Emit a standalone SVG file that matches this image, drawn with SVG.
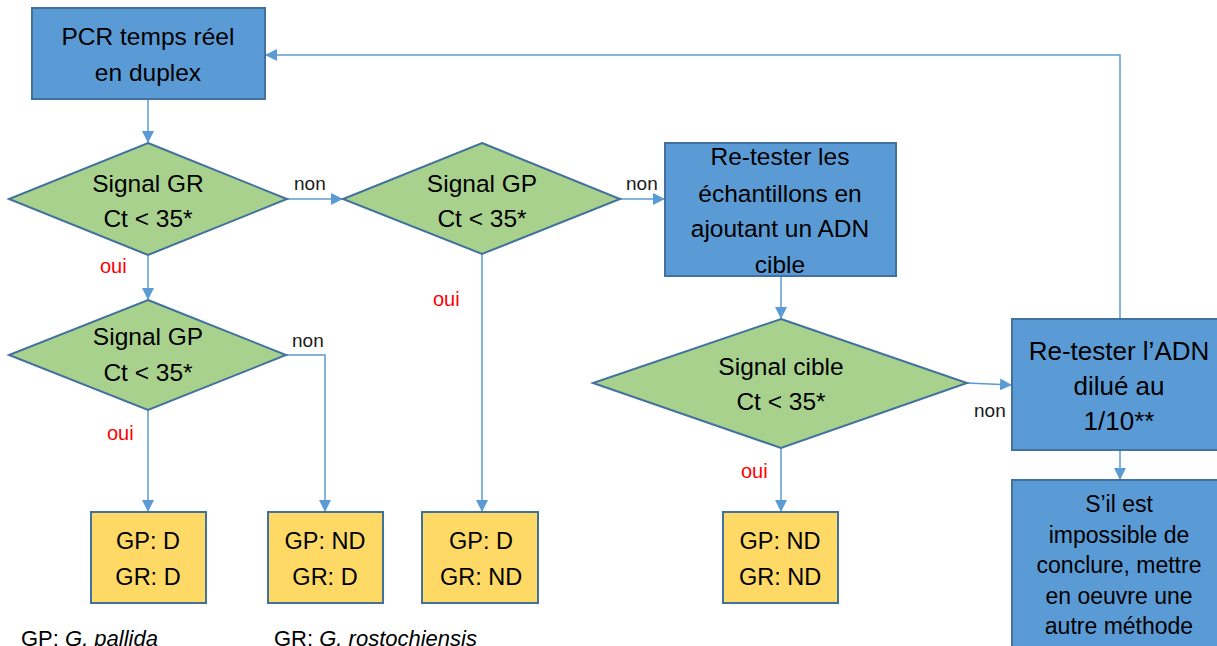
<svg xmlns="http://www.w3.org/2000/svg" width="1217" height="646" viewBox="0 0 1217 646">
<defs>
<marker id="arr" markerUnits="userSpaceOnUse" markerWidth="12" markerHeight="12" viewBox="0 0 12 12" refX="12" refY="6" orient="auto">
<path d="M0,0 L12,6 L0,12 Z" fill="#5B9BD5"/>
</marker>
<style>
.box{fill:#5B9BD5;stroke:#41719C;stroke-width:2}
.dia{fill:#A9D18E;stroke:#41719C;stroke-width:2}
.res{fill:#FFD966;stroke:#41719C;stroke-width:2}
.t{font-family:"Liberation Sans",Arial,sans-serif;font-size:24.5px;fill:#000;text-anchor:middle}
.b{font-family:"Liberation Sans",Arial,sans-serif;font-size:26px;fill:#000;text-anchor:middle}
.r{font-family:"Liberation Sans",Arial,sans-serif;font-size:23.5px;fill:#000;text-anchor:middle}
.s{font-family:"Liberation Sans",Arial,sans-serif;font-size:23px;fill:#000;text-anchor:middle}
.non{font-family:"Liberation Sans",Arial,sans-serif;font-size:19px;fill:#1a1a1a}
.oui{font-family:"Liberation Sans",Arial,sans-serif;font-size:20px;fill:#FF0000}
.ft{font-family:"Liberation Sans",Arial,sans-serif;font-size:22px;fill:#000}
.c{fill:none;stroke:#5B9BD5;stroke-width:1.5}
</style>
</defs>
<g id="connectors">
<path class="c" d="M148,99 V143" marker-end="url(#arr)"/>
<path class="c" d="M287,199 H343" marker-end="url(#arr)"/>
<path class="c" d="M620,199 H665" marker-end="url(#arr)"/>
<path class="c" d="M781,276 V319" marker-end="url(#arr)"/>
<path class="c" d="M967,383 L1012,385" marker-end="url(#arr)"/>
<path class="c" d="M1120,319 V55 H265" marker-end="url(#arr)"/>
<path class="c" d="M1120,450 V480" marker-end="url(#arr)"/>
<path class="c" d="M148,255 V300" marker-end="url(#arr)"/>
<path class="c" d="M286,355 H325 V512" marker-end="url(#arr)"/>
<path class="c" d="M148,410 V512" marker-end="url(#arr)"/>
<path class="c" d="M482,254 V512" marker-end="url(#arr)"/>
<path class="c" d="M781,448 V512" marker-end="url(#arr)"/>
<text class="non" x="294" y="190">non</text>
<text class="non" x="626" y="190">non</text>
<text class="non" x="292" y="347">non</text>
<text class="non" x="974" y="417">non</text>
<text class="oui" x="100" y="273">oui</text>
<text class="oui" x="107" y="440">oui</text>
<text class="oui" x="433" y="306">oui</text>
<text class="oui" x="741" y="478">oui</text>
</g>
<g id="pcr">
<rect class="box" x="32" y="8" width="233" height="91"/>
<text class="t" x="148" y="45">PCR temps réel</text>
<text class="t" x="148" y="81">en duplex</text>
</g>
<g id="signal-gr">
<polygon class="dia" points="148,143 287,199 148,255 9,199"/>
<text class="t" x="148" y="192">Signal GR</text>
<text class="t" x="148" y="227">Ct &lt; 35*</text>
</g>
<g id="signal-gp-1">
<polygon class="dia" points="482,143 620,199 482,254 343,199"/>
<text class="t" x="482" y="192">Signal GP</text>
<text class="t" x="482" y="227">Ct &lt; 35*</text>
</g>
<g id="retest-echantillons">
<rect class="box" x="665" y="143" width="231" height="133"/>
<text class="t" x="780" y="165">Re-tester les</text>
<text class="t" x="780" y="202">échantillons en</text>
<text class="t" x="780" y="237">ajoutant un ADN</text>
<text class="t" x="780" y="273">cible</text>
</g>
<g id="signal-cible">
<polygon class="dia" points="781,319 967,383 781,448 593,383"/>
<text class="t" x="781" y="375">Signal cible</text>
<text class="t" x="781" y="410">Ct &lt; 35*</text>
</g>
<g id="retest-adn">
<rect class="box" x="1012" y="319" width="215" height="131"/>
<text class="b" x="1119" y="360">Re-tester l’ADN</text>
<text class="b" x="1119" y="395">dilué au</text>
<text class="b" x="1119" y="430">1/10**</text>
</g>
<g id="autre-methode">
<rect class="box" x="1012" y="480" width="215" height="180"/>
<text class="s" x="1119" y="512">S’il est</text>
<text class="s" x="1119" y="543">impossible de</text>
<text class="s" x="1119" y="573">conclure, mettre</text>
<text class="s" x="1119" y="604">en oeuvre une</text>
<text class="s" x="1119" y="634">autre méthode</text>
</g>
<g id="signal-gp-2">
<polygon class="dia" points="148,300 286,355 148,410 9,355"/>
<text class="t" x="148" y="345">Signal GP</text>
<text class="t" x="148" y="381">Ct &lt; 35*</text>
</g>
<g id="res-d-d">
<rect class="res" x="91" y="512" width="115" height="91"/>
<text class="r" x="148" y="549">GP: D</text>
<text class="r" x="148" y="585">GR: D</text>
</g>
<g id="res-nd-d">
<rect class="res" x="268" y="512" width="115" height="91"/>
<text class="r" x="325" y="549">GP: ND</text>
<text class="r" x="325" y="585">GR: D</text>
</g>
<g id="res-d-nd">
<rect class="res" x="422" y="512" width="116" height="91"/>
<text class="r" x="481" y="549">GP: D</text>
<text class="r" x="481" y="585">GR: ND</text>
</g>
<g id="res-nd-nd">
<rect class="res" x="723" y="512" width="115" height="91"/>
<text class="r" x="780" y="549">GP: ND</text>
<text class="r" x="780" y="585">GR: ND</text>
</g>
<g id="legend">
<text class="ft" x="21" y="646">GP: <tspan font-style="italic">G. pallida</tspan></text>
<text class="ft" x="274" y="646">GR: <tspan font-style="italic">G. rostochiensis</tspan></text>
</g>
</svg>
